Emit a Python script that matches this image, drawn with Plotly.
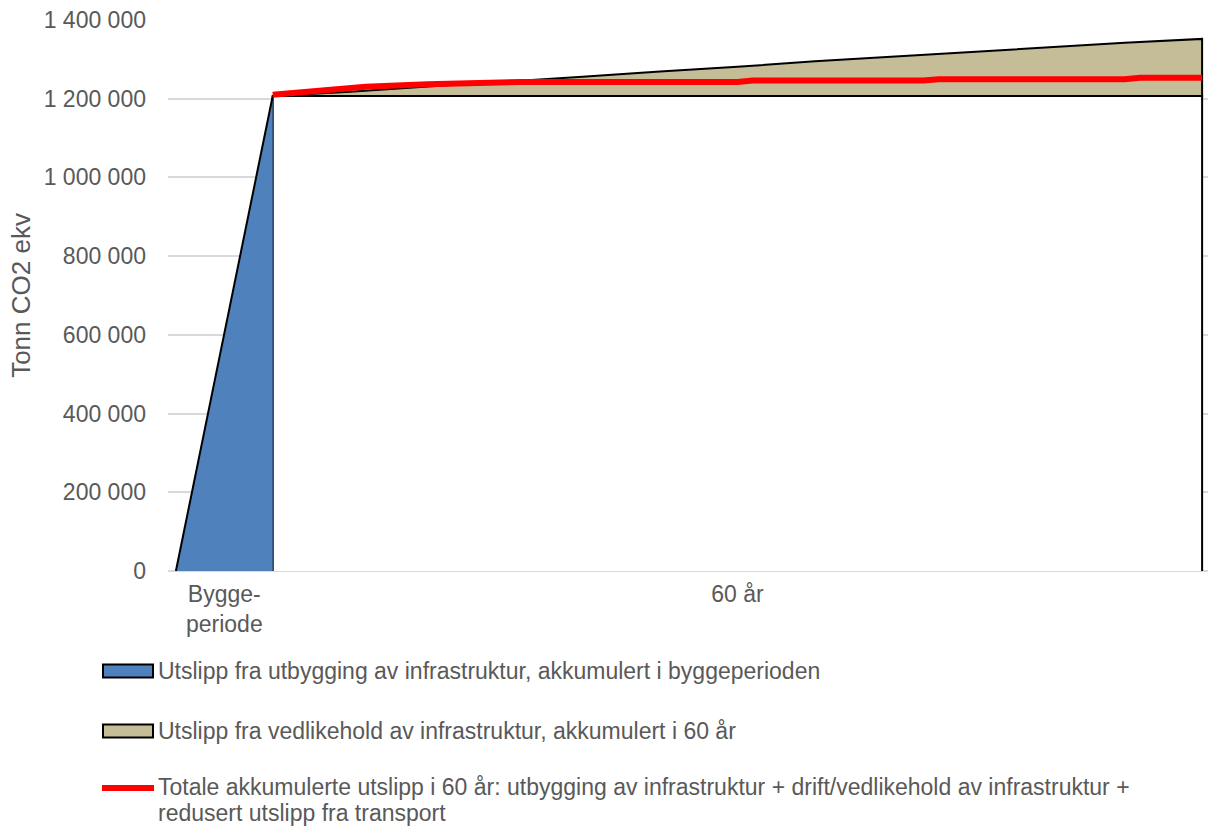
import plotly.graph_objects as go

# ---- data ----
build_years = [-6.25, 0]                 # construction period (x units = years)
build_emis = [0, 1207000]                # accumulated construction emissions

op_years = [0, 5, 10, 15, 20, 25, 30, 35, 40, 45, 50, 55, 60]
maint_cum = [0, 11000, 24000, 36000, 49000, 62000, 74000, 88000,
             100000, 112000, 124000, 135000, 145000]   # accumulated maintenance

total_years = [0, 6, 10, 14, 16, 30, 31, 42, 43, 55, 56, 60]
total_emis = [1210000, 1230500, 1237000, 1239000, 1242500, 1242500,
              1246000, 1246000, 1249500, 1249500, 1253500, 1253500]

x_labels = ["Bygge-<br>periode", "60 år"]
y_ticks = [0, 200000, 400000, 600000, 800000, 1000000, 1200000, 1400000]

legend_names = [
    "Utslipp fra utbygging av infrastruktur, akkumulert i byggeperioden",
    "Utslipp fra vedlikehold av infrastruktur, akkumulert i 60 år",
    "Totale akkumulerte utslipp i 60 år: utbygging av infrastruktur + drift/vedlikehold av infrastruktur +",
    "redusert utslipp fra transport",
]

BLUE = "#4f81bd"
TAN = "#c4bd97"
RED = "#ff0000"
GREY_TXT = "#595959"
GRID = "#d9d9d9"
FONT = "Liberation Sans, Arial, sans-serif"
FS = 23

base = build_emis[-1]
op_start, op_end = op_years[0], op_years[-1]

fig = go.Figure()

# white block: construction emissions carried through the 60 years
fig.add_trace(go.Scatter(
    x=[op_start, op_start, op_end, op_end], y=[0, base, base, 0],
    mode="lines", fill="tozeroy", fillcolor="white",
    line=dict(color="black", width=2), showlegend=False, hoverinfo="skip"))

# blue construction triangle
fig.add_trace(go.Scatter(
    x=build_years, y=build_emis, mode="lines", fill="tozeroy",
    fillcolor=BLUE, line=dict(color="black", width=2),
    name=legend_names[0], showlegend=False))

# tan maintenance band stacked on the base
tan_top = [base + m for m in maint_cum]
fig.add_trace(go.Scatter(
    x=op_years + op_years[::-1],
    y=tan_top + [base] * len(op_years),
    mode="lines", fill="toself", fillcolor=TAN,
    line=dict(color="black", width=2),
    name=legend_names[1], showlegend=False))

# red total line
fig.add_trace(go.Scatter(
    x=total_years, y=total_emis, mode="lines",
    line=dict(color=RED, width=6),
    name=legend_names[2], showlegend=False))

# ---- layout ----
L, R, T, B = 168, 0, 20, 257
W, H = 1208, 828
pw, ph = W - L - R, H - T - B


def xp(px):
    return (px - L) / pw


def yp(py):
    return (H - B - py) / ph


build_mid = (build_years[0] + build_years[-1]) / 2
op_mid = (op_start + op_end) / 2

fig.update_layout(
    width=W, height=H,
    margin=dict(l=L, r=R, t=T, b=B),
    paper_bgcolor="white", plot_bgcolor="white",
    font=dict(family=FONT, size=FS, color=GREY_TXT),
    separators=", ",
    showlegend=False,
    xaxis=dict(range=[-6.76, 60.38], showgrid=False, zeroline=False,
               showline=False, ticks="",
               tickmode="array", tickvals=[build_mid, op_mid], ticktext=x_labels,
               ticklabelstandoff=7,
               tickfont=dict(size=FS, color=GREY_TXT, family=FONT)),
    yaxis=dict(range=[0, 1400000], tickmode="array", tickvals=y_ticks,
               tickformat=",d", showgrid=True, gridcolor=GRID, gridwidth=2,
               zeroline=True, zerolinecolor=GRID, zerolinewidth=2,
               showline=False, ticks="", ticklabelstandoff=21,
               tickfont=dict(size=FS, color=GREY_TXT, family=FONT),
               title=dict(text="Tonn CO2 ekv", standoff=5,
                          font=dict(size=26, color=GREY_TXT, family=FONT))),
)

# ---- manual legend (wide boxes like the original) ----
shapes = []
annots = []
box_rows = [(671, BLUE), (731, TAN)]
for (cy, col), name in zip(box_rows, legend_names[:2]):
    shapes.append(dict(type="rect", xref="paper", yref="paper",
                       x0=xp(103), x1=xp(153), y0=yp(cy + 6.5), y1=yp(cy - 6.5),
                       fillcolor=col, line=dict(color="black", width=2)))
    annots.append(dict(xref="paper", yref="paper", x=xp(156), y=yp(cy),
                       xanchor="left", yanchor="middle", showarrow=False,
                       text=name, align="left",
                       font=dict(size=FS, color=GREY_TXT, family=FONT)))
shapes.append(dict(type="line", xref="paper", yref="paper",
                   x0=xp(102), x1=xp(154), y0=yp(788), y1=yp(788),
                   line=dict(color=RED, width=6)))
for cy, name in zip([787, 813], legend_names[2:]):
    annots.append(dict(xref="paper", yref="paper", x=xp(156), y=yp(cy),
                       xanchor="left", yanchor="middle", showarrow=False,
                       text=name, align="left",
                       font=dict(size=FS, color=GREY_TXT, family=FONT)))

fig.update_layout(shapes=shapes, annotations=annots)

fig.write_html("out.html")
